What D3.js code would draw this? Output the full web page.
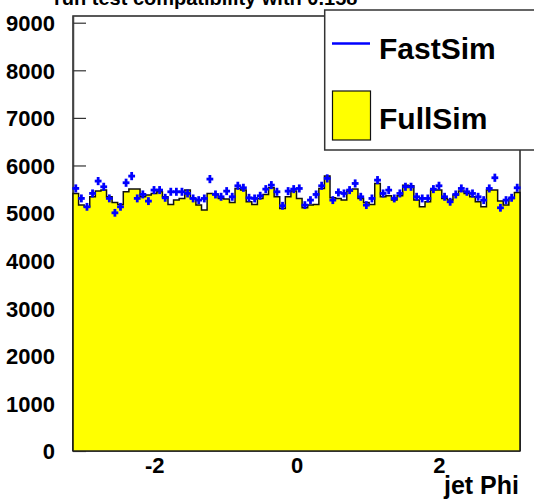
<!DOCTYPE html>
<html>
<head>
<meta charset="utf-8">
<script src="https://cdn.jsdelivr.net/npm/d3@7"></script>
<style>
  body { margin: 0; background: white; }
  svg { display: block; }
</style>
</head>
<body>
<svg id="jet-phi-chart" width="534" height="501"></svg>
<script>
// jet phi, 80 bins from -pi to pi
var nBins = 80;
var phiMin = -Math.PI, phiMax = Math.PI;

var fullSim = [
    5412, 5167, 5131, 5342, 5461, 5482, 5342, 5223, 5181, 5447,
    5503, 5503, 5342, 5377, 5412, 5447, 5342, 5181, 5272, 5307,
    5482, 5307, 5167, 5062, 5412, 5391, 5307, 5293, 5223, 5517,
    5482, 5237, 5181, 5307, 5391, 5531, 5342, 5097, 5342, 5461,
    5307, 5111, 5167, 5181, 5517, 5777, 5321, 5307, 5272, 5461,
    5503, 5307, 5223, 5181, 5622, 5342, 5363, 5272, 5363, 5587,
    5573, 5272, 5132, 5237, 5482, 5482, 5307, 5272, 5377, 5461,
    5412, 5342, 5237, 5132, 5482, 5482, 5251, 5167, 5307, 5433
];

var fastSim = [
    5518, 5308, 5131, 5413, 5672, 5552, 5308, 5005, 5131, 5637,
    5777, 5308, 5392, 5251, 5483, 5483, 5321, 5447, 5447, 5447,
    5412, 5307, 5272, 5307, 5714, 5391, 5342, 5461, 5342, 5573,
    5531, 5321, 5307, 5363, 5503, 5587, 5447, 5153, 5461, 5503,
    5517, 5167, 5272, 5391, 5573, 5728, 5272, 5433, 5412, 5482,
    5622, 5342, 5167, 5307, 5692, 5412, 5482, 5307, 5412, 5552,
    5552, 5342, 5307, 5307, 5503, 5573, 5342, 5237, 5391, 5517,
    5447, 5412, 5342, 5272, 5517, 5742, 5111, 5272, 5321, 5531
];

var yTicks = [0, 1000, 2000, 3000, 4000, 5000, 6000, 7000, 8000, 9000];
var xTicks = [-2, 0, 2];
var legendNames = ["FastSim", "FullSim"];
var titleText = "run test compatibility with 0.158";
var xTitle = "jet Phi";

function drawJetPhi() {
    var svg = d3.select("#jet-phi-chart");
    var left = 73, right = 520, top = 16, bottom = 451;
    var font = "'Liberation Sans', Arial, Helvetica, sans-serif";

    var xScale = d3.scaleLinear().domain([phiMin, phiMax]).range([left, right]);
    var yScale = d3.scaleLinear().domain([0, 9141]).range([bottom, top]);
    var binW = (phiMax - phiMin) / nBins;

    // title (cut off at the top like the original)
    svg.append("text")
        .attr("x", 54)
        .attr("y", 4.5)
        .style("font-family", font)
        .style("font-weight", "bold")
        .style("font-size", "20px")
        .text(titleText);

    // frame
    svg.append("rect")
        .attr("x", left)
        .attr("y", top)
        .attr("width", right - left)
        .attr("height", bottom - top)
        .style("fill", "none")
        .style("stroke", "#222")
        .style("stroke-width", 1.5);

    // y axis, ticks inside the frame
    var yAxis = d3.axisLeft(yScale)
        .tickValues(yTicks)
        .tickSizeInner(-13)
        .tickSizeOuter(0)
        .tickPadding(18)
        .tickFormat(function (d) { return String(d); });
    var gy = svg.append("g")
        .attr("transform", "translate(" + left + ",0)")
        .call(yAxis);
    gy.select(".domain").style("stroke", "#444").style("stroke-width", 1.5);
    gy.selectAll(".tick line").style("stroke", "#333").style("stroke-width", 1.2);
    gy.selectAll("text")
        .style("font-family", font)
        .style("font-weight", "bold")
        .style("font-size", "22px")
        .attr("dy", "0.36em")
        .style("fill", "black");

    // x axis
    var xAxis = d3.axisBottom(xScale)
        .tickValues(xTicks)
        .tickSizeInner(-13)
        .tickSizeOuter(0)
        .tickPadding(6)
        .tickFormat(function (d) { return String(d); });
    var gx = svg.append("g")
        .attr("transform", "translate(0," + bottom + ")")
        .call(xAxis);
    gx.select(".domain").remove();
    gx.selectAll(".tick line").style("stroke", "#333");
    gx.selectAll("text")
        .style("font-family", font)
        .style("font-weight", "bold")
        .style("font-size", "22px")
        .style("fill", "black");

    svg.append("text")
        .attr("x", right - 1)
        .attr("y", 494)
        .attr("text-anchor", "end")
        .style("font-family", font)
        .style("font-weight", "bold")
        .style("font-size", "25px")
        .text(xTitle);

    // FullSim histogram as a step outline
    var pts = [[phiMin, 0]];
    fullSim.forEach(function (v, i) {
        pts.push([phiMin + i * binW, v]);
        pts.push([phiMin + (i + 1) * binW, v]);
    });
    pts.push([phiMax, 0]);

    var line = d3.line()
        .x(function (d) { return xScale(d[0]); })
        .y(function (d) { return yScale(d[1]); });

    svg.append("path")
        .datum(pts)
        .attr("d", line)
        .style("fill", "#ffff00")
        .style("stroke", "none");

    svg.append("path")
        .datum(pts)
        .attr("d", line)
        .style("fill", "none")
        .style("stroke", "#111")
        .style("stroke-width", 1.5);

    svg.append("line")
        .attr("x1", left)
        .attr("x2", right)
        .attr("y1", bottom)
        .attr("y2", bottom)
        .style("stroke", "#222")
        .style("stroke-width", 1.5);

    // FastSim points with sqrt(N) error bars
    var marks = svg.append("g").selectAll("g")
        .data(fastSim)
        .enter()
        .append("g");

    marks.append("line")
        .attr("x1", function (d, i) { return xScale(phiMin + (i + 0.5) * binW); })
        .attr("x2", function (d, i) { return xScale(phiMin + (i + 0.5) * binW); })
        .attr("y1", function (d) { return yScale(d - Math.sqrt(d)) + 0.5; })
        .attr("y2", function (d) { return yScale(d + Math.sqrt(d)) - 0.5; })
        .style("stroke", "#0000ff")
        .style("stroke-width", 2.8);

    marks.append("line")
        .attr("x1", function (d, i) { return xScale(phiMin + (i + 0.5) * binW) - 3.4; })
        .attr("x2", function (d, i) { return xScale(phiMin + (i + 0.5) * binW) + 3.4; })
        .attr("y1", function (d) { return yScale(d); })
        .attr("y2", function (d) { return yScale(d); })
        .style("stroke", "#0000ff")
        .style("stroke-width", 2.8);

    // legend
    var lg = svg.append("g");
    lg.append("rect")
        .attr("x", 324.7)
        .attr("y", 10)
        .attr("width", 240)
        .attr("height", 140)
        .style("fill", "white")
        .style("stroke", "#333")
        .style("stroke-width", 1.5);

    lg.append("line")
        .attr("x1", 332)
        .attr("x2", 370)
        .attr("y1", 43.5)
        .attr("y2", 43.5)
        .style("stroke", "#0000ff")
        .style("stroke-width", 2.5);

    lg.append("rect")
        .attr("x", 332.5)
        .attr("y", 91)
        .attr("width", 38)
        .attr("height", 49)
        .style("fill", "#ffff00")
        .style("stroke", "#111")
        .style("stroke-width", 1.2);

    lg.selectAll("text.entry")
        .data(legendNames)
        .enter()
        .append("text")
        .attr("class", "entry")
        .attr("x", 379)
        .attr("y", function (d, i) { return i == 0 ? 59 : 129; })
        .style("font-family", font)
        .style("font-weight", "bold")
        .style("font-size", "30px")
        .text(function (d) { return d; });
}

drawJetPhi();
</script>
</body>
</html>
